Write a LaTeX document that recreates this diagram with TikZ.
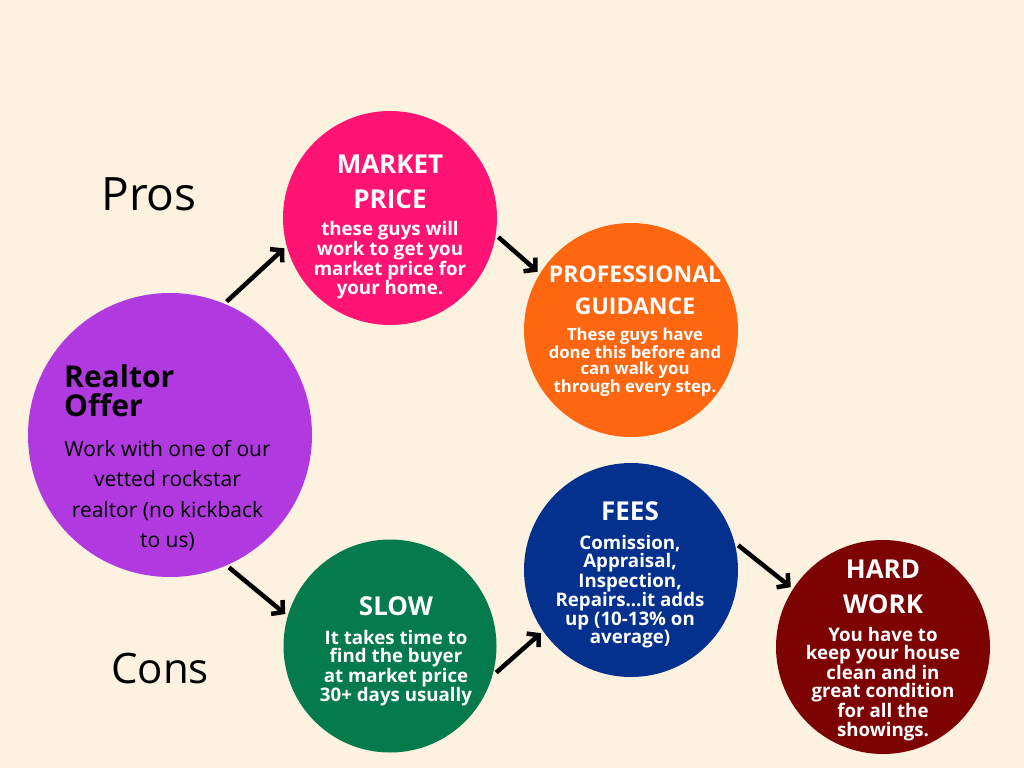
\documentclass[tikz,border=0pt]{standalone}
\usepackage{fontspec}
\setmainfont{Open Sans}
\usepackage{xcolor}
\usetikzlibrary{arrows.meta,positioning}

\definecolor{bgcream}{HTML}{FDF1E0}
\definecolor{offerpurple}{HTML}{B03ADF}
\definecolor{marketpink}{HTML}{FF1473}
\definecolor{guideorange}{HTML}{FF6610}
\definecolor{slowgreen}{HTML}{047A4D}
\definecolor{feesblue}{HTML}{04318D}
\definecolor{hardred}{HTML}{7D0202}

\tikzset{
  bubble/.style={circle,inner sep=0pt,outer sep=3pt,minimum size=#1},
  headtxt/.style={align=center,text=white,inner sep=0pt,font=\fontsize{26}{35}\selectfont\bfseries},
  bodytxt/.style={align=center,text=white,inner sep=0pt,font=\fontsize{18.7}{18.3}\selectfont\bfseries},
  flow/.style={line width=4.5pt,-{Straight Barb[length=8pt,width=18pt]}}
}

\begin{document}
\begin{tikzpicture}[x=1pt,y=-1pt]
                \fill[bgcream] (0,0) rectangle (1024,768);
                \useasboundingbox (0,0) rectangle (1024,768);

                \node[bubble=284pt,fill=offerpurple] (offer)  at (170,435) {};
                \node[bubble=214pt,fill=marketpink]  (market) at (390,218) {};
                \node[bubble=214pt,fill=guideorange] (guide)  at (631,330) {};
                \node[bubble=213pt,fill=slowgreen]   (slow)   at (390,646) {};
                \node[bubble=214pt,fill=feesblue]    (fees)   at (631,570) {};
                \node[bubble=214pt,fill=hardred]     (hard)   at (883,647) {};

                \node[font=\fontsize{46}{50}\selectfont,inner sep=0pt] (pros) at (149,194.5) {Pros};
                \node[font=\fontsize{42}{46}\selectfont,inner sep=0pt] (cons) at (160,668) {Cons};

                \node[anchor=west,align=left,inner sep=0pt,font=\fontsize{30}{29}\selectfont\bfseries] (offer-head) at (64,390.5) {Realtor\\Offer};
                \node[align=center,inner sep=0pt,font=\fontsize{21}{30.5}\selectfont] (offer-body) at (167.5,495.5)
                    {Work with one of our\\vetted rockstar\\realtor (no kickback\\to us)};

                \node[headtxt] (market-head) at (390,181.5) {MARKET\\PRICE};
                \node[bodytxt] (market-body) at (390,260.5) {these guys will\\work to get you\\market price for\\your home.};

                \node[headtxt,font=\fontsize{23}{32}\selectfont\bfseries] (guide-head) at (635,290) {PROFESSIONAL\\GUIDANCE};
                \node[bodytxt,font=\fontsize{16.7}{16}\selectfont\bfseries] (guide-body) at (635,362) {These guys have\\done this before and\\can walk you\\through every step.};

                \node[headtxt] (slow-head) at (396,606) {SLOW};
                \node[bodytxt] (slow-body) at (396,668) {It takes time to\\find the buyer\\at market price\\30+ days usually};

                \node[headtxt] (fees-head) at (630,511) {FEES};
                \node[bodytxt] (fees-body) at (630,591.5) {Comission,\\Appraisal,\\Inspection,\\Repairs...it adds\\up (10-13\% on\\average)};

                \node[headtxt] (hard-head) at (883,586.5) {HARD\\WORK};
                \node[bodytxt] (hard-body) at (883,684) {You have to\\keep your house\\clean and in\\great condition\\for all the\\showings.};

                \draw[flow] (offer.67) -- (market.196);
                \draw[flow] (market.-10) -- (guide.148);
                \draw[flow] (offer.-66) -- (slow.163);
                \draw[flow] (slow.-14) -- (fees.215);
                \draw[flow] (fees.13) -- (hard.147);
\end{tikzpicture}
\end{document}
